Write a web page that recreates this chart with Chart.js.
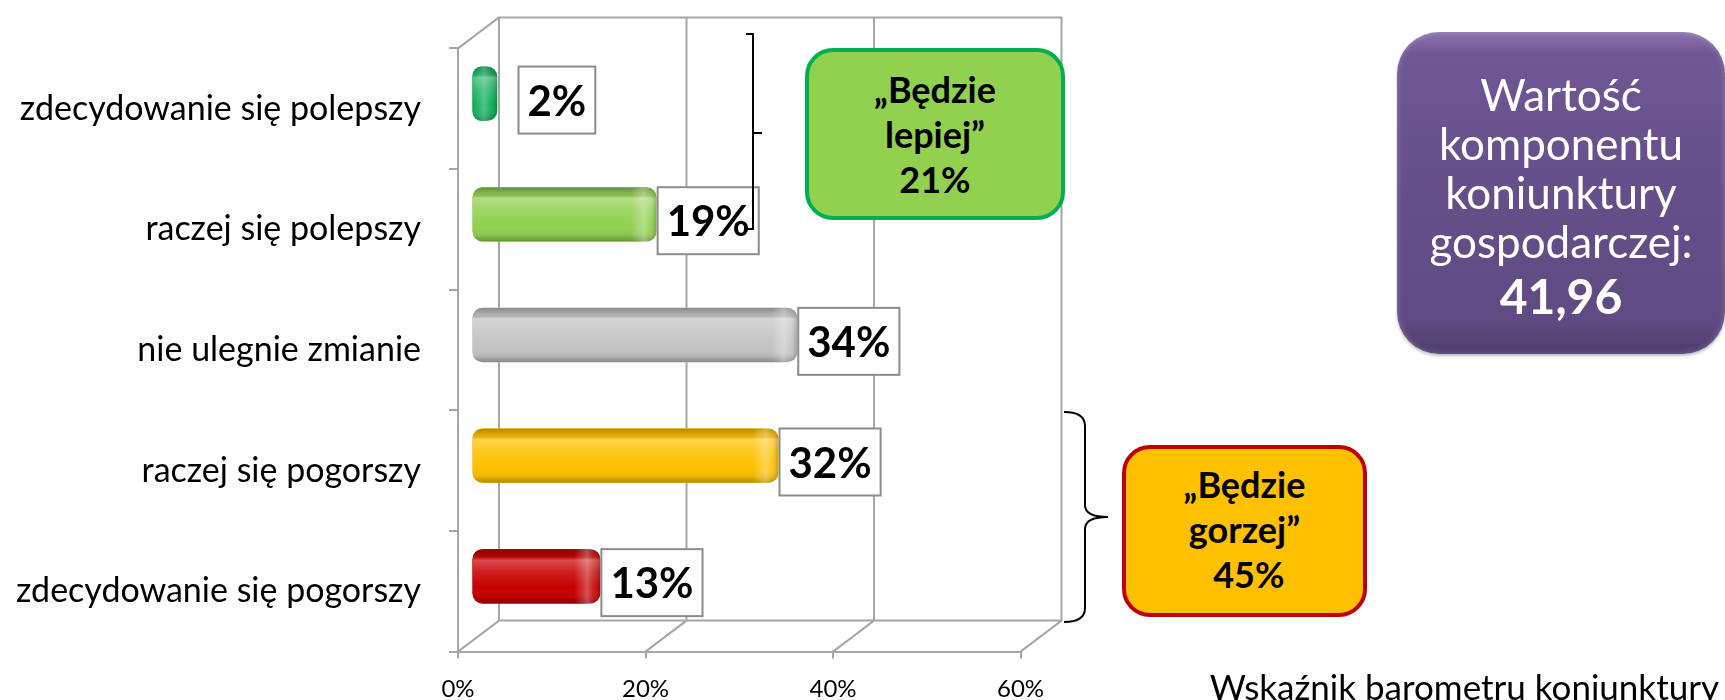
<!DOCTYPE html>
<html lang="pl">
<head>
<meta charset="utf-8">
<title>Wskaźnik barometru koniunktury</title>
<script src="https://cdn.jsdelivr.net/npm/chart.js@4.4.0/dist/chart.umd.min.js"></script>
<style>
    body { margin: 0; background: #fff; }
    #wrap { position: relative; width: 1725px; height: 700px; overflow: hidden; font-family: Lato, "Open Sans", sans-serif; }
    #chart { position: absolute; left: 0; top: 0; }
    .note {
        position: absolute; box-sizing: border-box; text-align: center;
        font-weight: bold; font-size: 36px; line-height: 45px; color: #000;
    }
    #better { left: 805px; top: 48px; width: 260px; height: 172px; padding-top: 15px;
        background: #92D050; border: 4px solid #00B050; border-radius: 28px; }
    #worse { left: 1122px; top: 445px; width: 245px; height: 172px; padding-top: 13px;
        background: #FFC000; border: 4px solid #C00000; border-radius: 28px; }
    #index { position: absolute; box-sizing: border-box; left: 1397px; top: 32px; width: 328px; height: 322px;
        padding-top: 38px; border-radius: 42px; color: #fff; text-align: center;
        font-size: 44px; line-height: 49px;
        background: linear-gradient(180deg, #8a73ad 0%, #6f5794 7%, #66508b 45%, #5f4a83 90%, #4e3c6d 100%);
        box-shadow: inset 0 0 6px rgba(255,255,255,0.25), 0 2px 3px rgba(0,0,0,0.25); }
    #index b { display: block; font-size: 48px; line-height: 60px; }
    #caption { position: absolute; right: 6px; top: 665px; font-size: 35px; line-height: 42px; color: #000; white-space: nowrap; }
</style>
</head>
<body>
<div id="wrap">
    <canvas id="chart" width="1725" height="700"></canvas>
    <div class="note" id="better">„Będzie<br>lepiej”<br>21%</div>
    <div class="note" id="worse">„Będzie<br>gorzej”<br>&nbsp;45%</div>
    <div id="index">Wartość<br>komponentu<br>koniunktury<br>gospodarczej:<b>41,96</b></div>
    <div id="caption">Wskaźnik barometru koniunktury</div>
</div>
<script>
// answers, top to bottom
const categories = [
    'zdecydowanie się polepszy',
    'raczej się polepszy',
    'nie ulegnie zmianie',
    'raczej się pogorszy',
    'zdecydowanie się pogorszy'
];
const shares = [2, 19, 34, 32, 13];
const barColors = ['#00A84F', '#92D050', '#C4C4C4', '#FFC000', '#C80000'];
const xTicks = [0, 20, 40, 60];

// 3D look: bars sit a bit behind the front edge, the wall further back
const depth = { x: 13.5, y: -15 };
const wall = { x: 41, y: -31 };
const capWidth = 7;   // visible end face of each 3D bar
const frameColor = '#A6A6A6';

const frame3d = {
    id: 'frame3d',
    beforeDatasetsDraw(chart) {
        const { ctx, chartArea: a, scales: { x } } = chart;
        ctx.save();
        ctx.strokeStyle = frameColor;
        ctx.lineWidth = 2;
        ctx.beginPath();
        ctx.rect(a.left + wall.x, a.top + wall.y, a.right - a.left, a.bottom - a.top);
        xTicks.forEach(t => {
            const px = x.getPixelForValue(t);
            ctx.moveTo(px + wall.x, a.top + wall.y);
            ctx.lineTo(px + wall.x, a.bottom + wall.y);
            ctx.moveTo(px, a.bottom);
            ctx.lineTo(px + wall.x, a.bottom + wall.y);
        });
        ctx.moveTo(a.left, a.top);
        ctx.lineTo(a.left + wall.x, a.top + wall.y);
        ctx.stroke();
        ctx.restore();

        ctx.save();
        ctx.translate(depth.x, depth.y);
    },
    afterDatasetsDraw(chart) {
        const ctx = chart.ctx;
        const bars = chart.getDatasetMeta(0).data;

        // end face and shading so the bars look rounded
        bars.forEach((bar, i) => {
            const { x, y, base, height } = bar.getProps(['x', 'y', 'base', 'height'], true);
            const top = y - height / 2;
            const right = x + capWidth;
            ctx.save();
            ctx.beginPath();
            ctx.roundRect(base, top, right - base, height, 10);
            ctx.fillStyle = barColors[i];
            ctx.fill();
            ctx.clip();
            const g = ctx.createLinearGradient(0, top, 0, top + height);
            g.addColorStop(0, 'rgba(0,0,0,0.3)');
            g.addColorStop(0.12, 'rgba(0,0,0,0.1)');
            g.addColorStop(0.2, 'rgba(255,255,255,0.3)');
            g.addColorStop(0.42, 'rgba(255,255,255,0.12)');
            g.addColorStop(0.7, 'rgba(255,255,255,0)');
            g.addColorStop(0.88, 'rgba(0,0,0,0.06)');
            g.addColorStop(1, 'rgba(0,0,0,0.3)');
            ctx.fillStyle = g;
            ctx.fillRect(base, top, right - base, height);
            const e = ctx.createLinearGradient(right - 26, 0, right, 0);
            e.addColorStop(0, 'rgba(255,255,255,0)');
            e.addColorStop(0.5, 'rgba(255,255,255,0.3)');
            e.addColorStop(0.75, 'rgba(255,255,255,0.1)');
            e.addColorStop(1, 'rgba(0,0,0,0.2)');
            ctx.fillStyle = e;
            ctx.fillRect(right - 26, top, 26, height);
            ctx.restore();
        });

        // value boxes
        ctx.save();
        ctx.font = 'bold 42px Lato';
        ctx.textAlign = 'center';
        ctx.textBaseline = 'middle';
        bars.forEach((bar, i) => {
            const { x, y, base, height } = bar.getProps(['x', 'y', 'base', 'height'], true);
            const text = shares[i] + '%';
            const w = ctx.measureText(text).width + 18;
            const h = 67;
            const left = Math.max(x + capWidth + 1, base + 46);
            const top = y - height / 2;
            ctx.fillStyle = '#fff';
            ctx.fillRect(left, top, w, h);
            ctx.strokeStyle = '#8C8C8C';
            ctx.lineWidth = 2;
            ctx.strokeRect(left, top, w, h);
            ctx.fillStyle = '#000';
            ctx.fillText(text, left + w / 2, top + h / 2 + 2);
        });
        ctx.restore();

        ctx.restore();
    },
    afterDraw(chart) {
        const ctx = chart.ctx;
        ctx.save();
        ctx.strokeStyle = '#000';
        ctx.lineWidth = 2;
        // bracket for the two "better" answers
        ctx.beginPath();
        ctx.moveTo(746, 34);
        ctx.lineTo(753, 34);
        ctx.lineTo(753, 229);
        ctx.lineTo(747, 229);
        ctx.moveTo(753, 133);
        ctx.lineTo(762, 133);
        ctx.stroke();
        // brace for the two "worse" answers
        ctx.beginPath();
        ctx.moveTo(1064, 412);
        ctx.quadraticCurveTo(1085, 412, 1085, 426);
        ctx.lineTo(1085, 505);
        ctx.quadraticCurveTo(1085, 517, 1108, 517);
        ctx.quadraticCurveTo(1085, 517, 1085, 529);
        ctx.lineTo(1085, 608);
        ctx.quadraticCurveTo(1085, 622, 1064, 622);
        ctx.stroke();
        ctx.restore();
    }
};

function drawChart() {
    const ctx = document.getElementById('chart').getContext('2d');
    new Chart(ctx, {
        type: 'bar',
        data: {
            labels: categories,
            datasets: [{
                data: shares,
                backgroundColor: barColors,
                borderRadius: 10,
                borderSkipped: false,
                barPercentage: 0.45,
                categoryPercentage: 1,
                clip: false
            }]
        },
        options: {
            indexAxis: 'y',
            responsive: false,
            animation: false,
            devicePixelRatio: 1,
            layout: { padding: { top: 46, right: 704.5, left: 0, bottom: 0 } },
            plugins: {
                legend: { display: false },
                tooltip: { enabled: false }
            },
            scales: {
                x: {
                    min: 0,
                    max: 60,
                    afterBuildTicks: (scale) => { scale.ticks = xTicks.map(v => ({ value: v })); },
                    afterFit: (scale) => { scale.height = 46; },
                    ticks: {
                        callback: (value) => `${value}%`,
                        font: { family: 'Lato', size: 24 },
                        color: '#000',
                        padding: 16,
                        maxRotation: 0
                    },
                    grid: { drawOnChartArea: false, tickLength: 7, color: frameColor, lineWidth: 2 },
                    border: { color: frameColor, width: 2 }
                },
                y: {
                    afterFit: (scale) => { scale.width = 458; },
                    ticks: {
                        font: { family: 'Lato', size: 34 },
                        color: '#000',
                        padding: 28
                    },
                    grid: { drawOnChartArea: false, tickLength: 9, color: frameColor, lineWidth: 2, offset: true },
                    border: { color: frameColor, width: 2 }
                }
            }
        },
        plugins: [frame3d]
    });
}

Promise.all([
    document.fonts.load('34px Lato'),
    document.fonts.load('bold 42px Lato')
]).then(drawChart, drawChart);
</script>
</body>
</html>
